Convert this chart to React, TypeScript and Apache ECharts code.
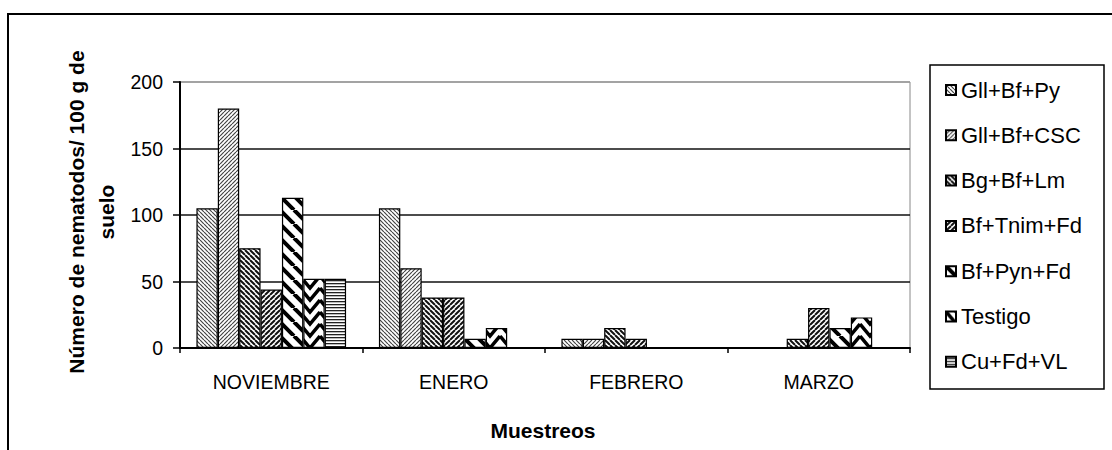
import React, { useEffect, useRef } from "react";
import * as echarts from "echarts";

const categories = ["NOVIEMBRE", "ENERO", "FEBRERO", "MARZO"];
const seriesNames = [
  "Gll+Bf+Py",
  "Gll+Bf+CSC",
  "Bg+Bf+Lm",
  "Bf+Tnim+Fd",
  "Bf+Pyn+Fd",
  "Testigo",
  "Cu+Fd+VL",
];
const gllBfPy = [105, 105, 7, 0];
const gllBfCsc = [180, 60, 7, 0];
const bgBfLm = [75, 38, 15, 7];
const bfTnimFd = [44, 38, 7, 30];
const bfPynFd = [113, 7, 0, 15];
const testigo = [52, 15, 0, 23];
const cuFdVl = [52, 0, 0, 0];
const seriesValues = [gllBfPy, gllBfCsc, bgBfLm, bfTnimFd, bfPynFd, testigo, cuFdVl];
const yTicks = { min: 0, max: 200, interval: 50 };

const FONT = "'Liberation Sans', Arial, sans-serif";

function makePattern(
  w: number,
  h: number,
  draw: (ctx: CanvasRenderingContext2D) => void
) {
  const c = document.createElement("canvas");
  c.width = w;
  c.height = h;
  const ctx = c.getContext("2d") as CanvasRenderingContext2D;
  ctx.fillStyle = "#ffffff";
  ctx.fillRect(0, 0, w, h);
  draw(ctx);
  return { image: c, repeat: "repeat", imageWidth: w, imageHeight: h } as any;
}

function diag(w: number, lw: number, color: string, back: boolean) {
  return makePattern(w, w, (ctx) => {
    ctx.strokeStyle = color;
    ctx.lineWidth = lw;
    ctx.beginPath();
    for (let k = -1; k <= 1; k++) {
      if (back) {
        ctx.moveTo(k * w, 0);
        ctx.lineTo(k * w + w, w);
      } else {
        ctx.moveTo(k * w, w);
        ctx.lineTo(k * w + w, 0);
      }
    }
    ctx.stroke();
  });
}

function chevron() {
  const w = 20;
  const h = 12;
  return makePattern(w, h, (ctx) => {
    ctx.strokeStyle = "#000";
    ctx.lineWidth = 3.5;
    ctx.beginPath();
    for (let k = -1; k <= 1; k++) {
      ctx.moveTo(0, k * h);
      ctx.lineTo(w / 2, k * h + h);
      ctx.lineTo(w, k * h);
    }
    ctx.stroke();
  });
}

function horiz() {
  return makePattern(4, 3, (ctx) => {
    ctx.fillStyle = "#222";
    ctx.fillRect(0, 1, 4, 1.3);
  });
}

export default function App() {
  const ref = useRef<HTMLDivElement>(null);
  useEffect(() => {
    document.body.style.margin = "0";
    document.body.style.overflow = "hidden";
    if (!ref.current) return;
    const chart = echarts.init(ref.current, undefined, { renderer: "svg" });
    const patterns = [
      diag(4, 1.2, "#444", true),
      diag(4, 1.2, "#444", false),
      diag(5, 2, "#111", true),
      diag(5, 2, "#111", false),
      diag(14, 4, "#000", true),
      chevron(),
      horiz(),
    ];
    const option: any = {
      animation: false,
      backgroundColor: "#ffffff",
      grid: {
        left: 180,
        top: 82,
        width: 730,
        height: 266,
        show: true,
        borderColor: "#888",
        borderWidth: 1,
        backgroundColor: "transparent",
      },
      legend: {
        orient: "vertical",
        left: 945,
        top: 79,
        padding: 0,
        itemWidth: 10,
        itemHeight: 10,
        itemGap: 23.3,
        itemTextGap: 12,
        icon: "rect",
        data: seriesNames,
        textStyle: {
          fontFamily: FONT,
          fontSize: 22,
          lineHeight: 22,
          color: "#000",
        },
      },
      xAxis: {
        type: "category",
        data: categories,
        axisLine: { lineStyle: { color: "#000", width: 2 } },
        axisTick: { show: true, length: 5, lineStyle: { color: "#000", width: 1.5 } },
        axisLabel: {
          margin: 24,
          fontFamily: FONT,
          fontSize: 19.5,
          color: "#000",
        },
        splitLine: { show: false },
      },
      yAxis: {
        type: "value",
        min: yTicks.min,
        max: yTicks.max,
        interval: yTicks.interval,
        axisLine: { show: true, lineStyle: { color: "#000", width: 2 } },
        axisTick: { show: true, length: 7, lineStyle: { color: "#000", width: 1.5 } },
        axisLabel: {
          margin: 17,
          fontFamily: FONT,
          fontSize: 19.5,
          color: "#000",
        },
        splitLine: {
          show: true,
          lineStyle: { color: ["#111", "#111", "#111", "#111", "#999"], width: 1.5 },
        },
      },
      graphic: [
        {
          type: "rect",
          shape: { x: 8, y: 14, width: 1300, height: 1000 },
          style: { fill: "none", stroke: "#000", lineWidth: 2 },
          silent: true,
          z: 100,
        },
        {
          type: "rect",
          shape: { x: 930, y: 65, width: 174, height: 324 },
          style: { fill: "none", stroke: "#000", lineWidth: 1.5 },
          silent: true,
          z: 100,
        },
        {
          type: "text",
          x: 91,
          y: 212,
          rotation: Math.PI / 2,
          style: {
            text: "Número de nematodos/ 100 g de\nsuelo",
            textAlign: "center",
            textVerticalAlign: "middle",
            fontFamily: FONT,
            fontSize: 21,
            fontWeight: "bold",
            lineHeight: 30,
            fill: "#000",
          },
          silent: true,
        },
        {
          type: "text",
          x: 543,
          y: 430,
          style: {
            text: "Muestreos",
            textAlign: "center",
            textVerticalAlign: "middle",
            fontFamily: FONT,
            fontSize: 21,
            fontWeight: "bold",
            fill: "#000",
          },
          silent: true,
        },
      ],
      series: seriesNames.map((name, i) => ({
        name,
        type: "bar",
        data: seriesValues[i],
        barGap: "0%",
        barCategoryGap: "18%",
        itemStyle: {
          color: patterns[i],
          borderColor: "#000",
          borderWidth: 1.2,
        },
        emphasis: { disabled: true },
      })),
    };
    chart.setOption(option);
    return () => {
      chart.dispose();
    };
  }, []);
  return <div ref={ref} style={{ width: "1112px", height: "450px" }} />;
}
